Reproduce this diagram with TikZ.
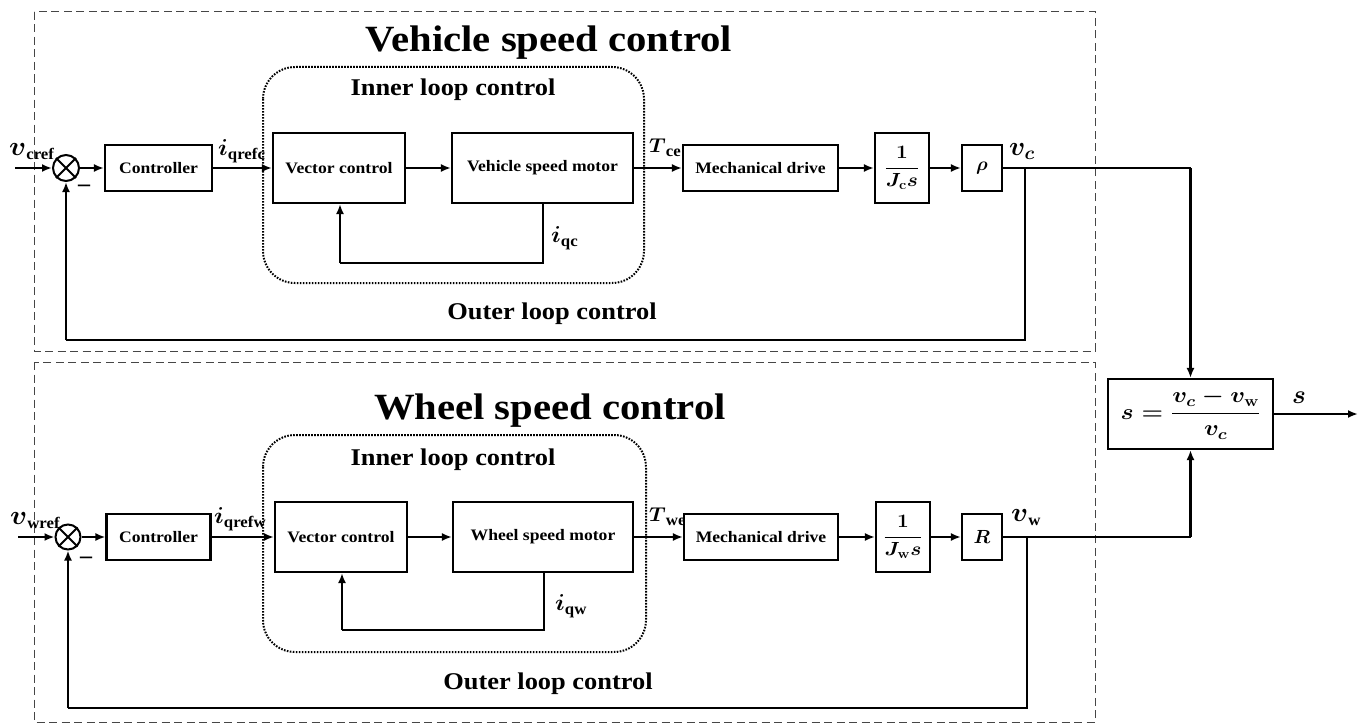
\RequirePackage{fix-cm}
\documentclass[tikz,border=0pt]{standalone}
\usepackage{amsmath}
\usepackage{fontspec}
\setmainfont{Liberation Serif}
\usetikzlibrary{arrows.meta,calc}

% fonts
\newcommand\ttlfont{\fontsize{37}{42}\selectfont\bfseries}
\newcommand\subfont{\fontsize{24}{28}\selectfont\bfseries}
\newcommand\blkfont{\fontsize{16}{19}\selectfont\bfseries}
\newcommand\fracfont{\fontsize{19}{22}\selectfont\bfseries\boldmath}
% horizontally widened text
\newcommand\wide[1]{\scalebox{1.1}[1]{#1}}
% bold math symbol with an upright bold subscript: size, symbol, subscript
\newcommand\lab[3]{\scalebox{1.05}[1]{{\fontsize{#1}{#1}\selectfont$\boldsymbol{#2}$}\raisebox{-4pt}{\fontsize{16}{18}\selectfont\bfseries #3}}}

\begin{document}
\begin{tikzpicture}[x=1pt,y=-1pt,
  blk/.style={draw, line width=2.1pt, inner sep=0pt, font=\blkfont, align=center},
  sumnode/.style={draw, circle, line width=2pt, minimum size=26pt, inner sep=0pt},
  wire/.style={line width=2.1pt},
  arr/.style={wire, -{Latex[length=10pt,width=8pt]}},
  group/.style={draw, gray!55!black, line width=1pt, dash pattern=on 8pt off 4.5pt},
  innerbox/.style={draw, line width=2pt, dash pattern=on 1.6pt off 1.4pt, rounded corners=32pt},
  ttl/.style={font=\ttlfont, inner sep=0pt},
  sub/.style={font=\subfont, inner sep=0pt},
  var/.style={inner sep=0pt, anchor=base west},
]
\useasboundingbox (0,0) rectangle (1365,725);

% ---------------- group frames ----------------
\draw[group] (34,12) rectangle (1095,351);
\draw[group] (34,362) rectangle (1095,722);
\draw[innerbox] (263,67) rectangle (644,283);
\draw[innerbox] (263,435) rectangle (646,652);

% ---------------- titles ----------------
\node[ttl] (t1) at (549,43) {\wide{Vehicle speed control}};
\node[sub] (in1) at (453,90) {\wide{Inner loop control}};
\node[sub] (out1) at (552,314) {\wide{Outer loop control}};
\node[ttl] (t2) at (550,411) {\wide{Wheel speed control}};
\node[sub] (in2) at (453,460) {\wide{Inner loop control}};
\node[sub] (out2) at (548,684) {\wide{Outer loop control}};

% ---------------- vehicle speed loop ----------------
\coordinate (vin1) at (15,168);
\node[sumnode] (s1) at (66,168) {};
\draw[wire] (s1.north west) -- (s1.south east) (s1.north east) -- (s1.south west);
\node[blk, minimum width=107pt, minimum height=46pt] (ctrl1) at (158.5,168) {\wide{Controller}};
\node[blk, minimum width=132pt, minimum height=70pt] (vc1) at (339,168) {\wide{Vector control}};
\node[blk, minimum width=181pt, minimum height=70pt] (mot1) at (542.5,168) {\wide{Vehicle speed motor}};
\node[blk, minimum width=155pt, minimum height=46pt] (mech1) at (760.5,168) {\wide{Mechanical drive}};
\node[blk, minimum width=54pt, minimum height=70pt, font=\fracfont] (j1) at (902,168)
  {\wide{$\dfrac{1}{J_{\mathbf{c}}s}$}};
\node[blk, minimum width=40pt, minimum height=46pt, font=\fracfont] (rho1) at (982,168) {$\boldsymbol{\rho}$};

\draw[arr] (vin1) -- (s1.west);
\draw[arr] (s1.east) -- (ctrl1.west);
\draw[arr] (ctrl1.east) -- (vc1.west);
\draw[arr] (vc1.east) -- (mot1.west);
\draw[arr] (mot1.east) -- (mech1.west);
\draw[arr] (mech1.east) -- (j1.west);
\draw[arr] (j1.east) -- (rho1.west);
\coordinate (br1) at (1025,168);
\draw[wire] (br1) -- (1025,340) -- (s1.south |- 0,340);
\draw[arr] (s1.south |- 0,340) -- (s1.south);
\draw[wire] ($(mot1.south)+(0.5,0)$) -- (543,263) -- (340,263);
\draw[arr] (340,263) -- (340,0 |- vc1.south);

\node[var] (lvin1) at (9,155) {\lab{27}{v}{cref}};
\node[var] (lirefc) at (218,155) {\lab{23}{i}{qrefc}};
\node[var] (ltce) at (649,152) {\lab{20}{T}{ce}};
\node[var] (lvc) at (1009,155) {\fontsize{27}{30}\selectfont$\boldsymbol{v_c}$};
\node[var] (liqc) at (551,242) {\lab{23}{i}{qc}};
\node[font=\subfont, inner sep=0pt] (neg1) at (84,188) {–};

% ---------------- wheel speed loop ----------------
\coordinate (vin2) at (18,537);
\node[sumnode, minimum size=25pt] (s2) at (68,537) {};
\draw[wire] (s2.north west) -- (s2.south east) (s2.north east) -- (s2.south west);
\node[blk, minimum width=104pt, minimum height=46pt] (ctrl2) at (158.5,537) {\wide{Controller}};
\node[blk, minimum width=132pt, minimum height=70pt] (vc2) at (341,537) {\wide{Vector control}};
\node[blk, minimum width=180pt, minimum height=70pt] (mot2) at (543,537) {\wide{Wheel speed motor}};
\node[blk, minimum width=154pt, minimum height=46pt] (mech2) at (761,537) {\wide{Mechanical drive}};
\node[blk, minimum width=54pt, minimum height=70pt, font=\fracfont] (j2) at (903,537)
  {\wide{$\dfrac{1}{J_{\mathbf{w}}s}$}};
\node[blk, minimum width=40pt, minimum height=46pt, font=\fracfont] (r2) at (982,537) {$\boldsymbol{R}$};

\draw[arr] (vin2) -- (s2.west);
\draw[arr] (s2.east) -- (ctrl2.west);
\draw[arr] (ctrl2.east) -- (vc2.west);
\draw[arr] (vc2.east) -- (mot2.west);
\draw[arr] (mot2.east) -- (mech2.west);
\draw[arr] (mech2.east) -- (j2.west);
\draw[arr] (j2.east) -- (r2.west);
\coordinate (br2) at (1027,537);
\draw[wire] (br2) -- (1027,708) -- (s2.south |- 0,708);
\draw[arr] (s2.south |- 0,708) -- (s2.south);
\draw[wire] ($(mot2.south)+(1,0)$) -- (544,630) -- (342,630);
\draw[arr] (342,630) -- (342,0 |- vc2.south);

\node[var] (lvin2) at (10,524) {\lab{27}{v}{wref}};
\node[var] (lirefw) at (214,523) {\lab{23}{i}{qrefw}};
\node[var] (ltwe) at (649,521) {\lab{20}{T}{we}};
\node[var] (lvw) at (1011,521) {\lab{27}{v}{w}};
\node[var] (liqw) at (555,610) {\lab{23}{i}{qw}};
\node[font=\subfont, inner sep=0pt] (neg2) at (86,560) {–};

% ---------------- slip ratio block ----------------
\node[draw, line width=2.1pt, minimum width=165pt, minimum height=70pt, inner sep=0pt,
      font=\fontsize{22}{25}\selectfont\bfseries\boldmath] (slip) at (1190.5,414)
  {\scalebox{1.12}[1]{$s = \dfrac{v_c - v_{\mathbf{w}}}{v_c}$}};
\coordinate (sout) at (1358,414);
\draw[wire] (rho1.east) -- (slip.north |- br1);
\draw[arr] (slip.north |- br1) -- (slip.north);
\draw[wire] (r2.east) -- (slip.south |- br2);
\draw[arr] (slip.south |- br2) -- (slip.south);
\draw[arr] (slip.east) -- (sout);
\node[var] (ls) at (1292,403) {\fontsize{26}{30}\selectfont$\boldsymbol{s}$};

\end{tikzpicture}
\end{document}
